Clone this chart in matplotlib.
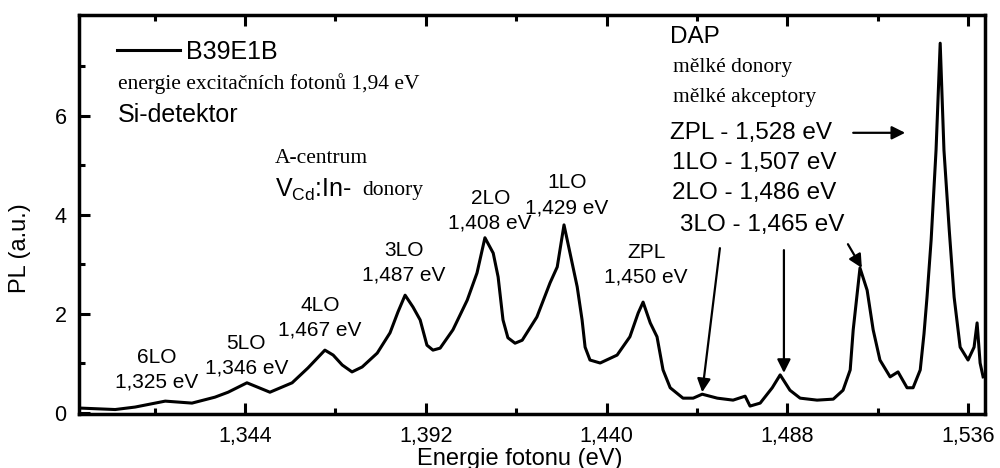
import numpy as np
import matplotlib

matplotlib.use("Agg")
from matplotlib import pyplot as plt
from matplotlib.ticker import MultipleLocator, FixedLocator, FuncFormatter

#########################################
### PL spectrum, sample B39E1B
#########################################
energy = [
    1.3000, 1.3095, 1.3148, 1.3188, 1.3228, 1.3299, 1.3360, 1.3395, 1.3445,
    1.3506, 1.3565, 1.3607, 1.3652, 1.3674, 1.3698, 1.3724, 1.3751, 1.3791,
    1.3825, 1.3846, 1.3865, 1.3886, 1.3905, 1.3923, 1.3939, 1.3958, 1.3992,
    1.4030, 1.4056, 1.4077, 1.4099, 1.4112, 1.4125, 1.4138, 1.4157, 1.4176,
    1.4215, 1.4250, 1.4269, 1.4287, 1.4303, 1.4322, 1.4335, 1.4343, 1.4356,
    1.4383, 1.4428, 1.4462, 1.4484, 1.4497, 1.4516, 1.4534, 1.4550, 1.4569,
    1.4603, 1.4630, 1.4654, 1.4694, 1.4736, 1.4768, 1.4781, 1.4808, 1.4840,
    1.4861, 1.4887, 1.4914, 1.4959, 1.5002, 1.5028, 1.5047, 1.5055, 1.5073,
    1.5092, 1.5108, 1.5126, 1.5153, 1.5174, 1.5198, 1.5214, 1.5233, 1.5243,
    1.5251, 1.5262, 1.5275, 1.5286, 1.5296, 1.5310, 1.5323, 1.5339, 1.5360,
    1.5376, 1.5384, 1.5392, 1.5400,
]
pl = [
    0.10, 0.07, 0.12, 0.18, 0.24, 0.20, 0.32, 0.42, 0.61,
    0.42, 0.61, 0.91, 1.27, 1.17, 0.97, 0.83, 0.93, 1.21,
    1.62, 2.04, 2.38, 2.14, 1.88, 1.37, 1.27, 1.31, 1.68,
    2.28, 2.83, 3.54, 3.23, 2.75, 1.88, 1.52, 1.41, 1.47,
    1.94, 2.63, 2.95, 3.80, 3.23, 2.55, 1.88, 1.33, 1.07,
    1.01, 1.17, 1.54, 2.02, 2.24, 1.82, 1.54, 0.87, 0.51,
    0.30, 0.30, 0.38, 0.30, 0.26, 0.34, 0.14, 0.20, 0.51,
    0.77, 0.46, 0.30, 0.26, 0.28, 0.46, 0.87, 1.68, 2.93,
    2.48, 1.68, 1.07, 0.73, 0.83, 0.51, 0.51, 0.87, 1.60,
    2.34, 3.50, 5.31, 7.47, 5.31, 3.70, 2.34, 1.33, 1.07,
    1.33, 1.82, 1.01, 0.73,
]

# phonon replicas of the A-centre band
acentre_names = ["6LO", "5LO", "4LO", "3LO", "2LO", "1LO", "ZPL"]
acentre_labels = ["1,325 eV", "1,346 eV", "1,467 eV", "1,487 eV",
                  "1,408 eV", "1,429 eV", "1,450 eV"]

# DAP band lines
dap_lines = ["ZPL - 1,528 eV", "1LO - 1,507 eV", "2LO - 1,486 eV", "3LO - 1,465 eV"]

sans = ["Liberation Sans", "DejaVu Sans"]
serif = ["Liberation Serif", "DejaVu Serif"]
plt.rcParams["font.family"] = sans

fig = plt.figure(figsize=(10, 4.68), dpi=100)
ax = fig.add_axes([0.079, 0.1154, 0.906, 0.8526])

ax.plot(energy, pl, "-", color="k", lw=2.2, solid_joinstyle="round", label="B39E1B")

ax.set_xlim(1.2999, 1.5405)
ax.set_ylim(-0.02, 8.04)

ax.xaxis.set_major_locator(MultipleLocator(0.048))
ax.xaxis.set_minor_locator(MultipleLocator(0.024))
ax.yaxis.set_major_locator(FixedLocator([0, 2, 4, 6]))
ax.yaxis.set_minor_locator(FixedLocator([1, 3, 5, 7]))
ax.xaxis.set_major_formatter(FuncFormatter(lambda v, p: ("%.3f" % v).replace(".", ",")))
ax.yaxis.set_major_formatter(FuncFormatter(lambda v, p: "%d" % round(v)))

ax.tick_params(which="both", direction="in", top=True, right=False, width=2.2)
ax.tick_params(which="major", length=8, labelsize=15.5, pad=9)
ax.tick_params(which="minor", length=4.5)
for s in ax.spines.values():
    s.set_linewidth(2.5)

ax.set_xlabel("Energie fotonu (eV)", fontsize=17)
ax.set_ylabel("PL (a.u.)", fontsize=17)
ax.xaxis.set_label_coords(0.486, -0.085)
ax.yaxis.set_label_coords(-0.053, 0.416)

leg = ax.legend(loc="center left", bbox_to_anchor=(0.042, 0.907), frameon=False,
                fontsize=18, handlelength=2.5, handletextpad=0.25,
                borderpad=0, borderaxespad=0)

# sample / measurement notes
ax.text(1.3103, 6.65, "energie excitačních fotonů 1,94 eV", family=serif,
        fontsize=15.5, va="center")
ax.text(1.3103, 6.02, "Si-detektor", fontsize=18, va="center")
ax.text(1.3520, 5.15, "A-centrum", family=serif, fontsize=15.5, va="center")
ax.text(1.3520, 4.50, r"V$_\mathregular{Cd}$:In-", fontsize=18, va="center")
ax.text(1.3750, 4.50, "donory", family=serif, fontsize=15.5, va="center")

# A-centre replica labels
name_pos = [(1.3206, 1.13), (1.3443, 1.41), (1.3639, 2.18), (1.3862, 3.29),
            (1.4091, 4.34), (1.4295, 4.65), (1.4505, 3.25)]
for name, lab, (x, y) in zip(acentre_names, acentre_labels, name_pos):
    ax.text(x, y, name, fontsize=15, ha="center", va="center")
    ax.text(x, y - 0.51, lab, fontsize=15, ha="center", va="center")

# DAP block
ax.text(1.4569, 7.60, "DAP", fontsize=17.5, va="center")
ax.text(1.4577, 6.97, "mělké donory", family=serif, fontsize=15.5, va="center")
ax.text(1.4577, 6.38, "mělké akceptory", family=serif, fontsize=15.5, va="center")
dap_pos = [(1.4569, 5.66), (1.4574, 5.05), (1.4574, 4.44), (1.4595, 3.80)]
for txt, (x, y) in zip(dap_lines, dap_pos):
    ax.text(x, y, txt, fontsize=17.5, va="center")

arrow = dict(arrowstyle="-|>", color="k", lw=1.6, mutation_scale=20,
             shrinkA=0, shrinkB=0)
ax.annotate("", xy=(1.5193, 5.66), xytext=(1.5055, 5.66), arrowprops=arrow)
ax.annotate("", xy=(1.4654, 0.42), xytext=(1.4701, 3.33), arrowprops=arrow)
ax.annotate("", xy=(1.4871, 0.81), xytext=(1.4871, 3.29), arrowprops=arrow)
ax.annotate("", xy=(1.5078, 2.93), xytext=(1.5041, 3.41), arrowprops=arrow)

plt.savefig("out.png", dpi=100)
